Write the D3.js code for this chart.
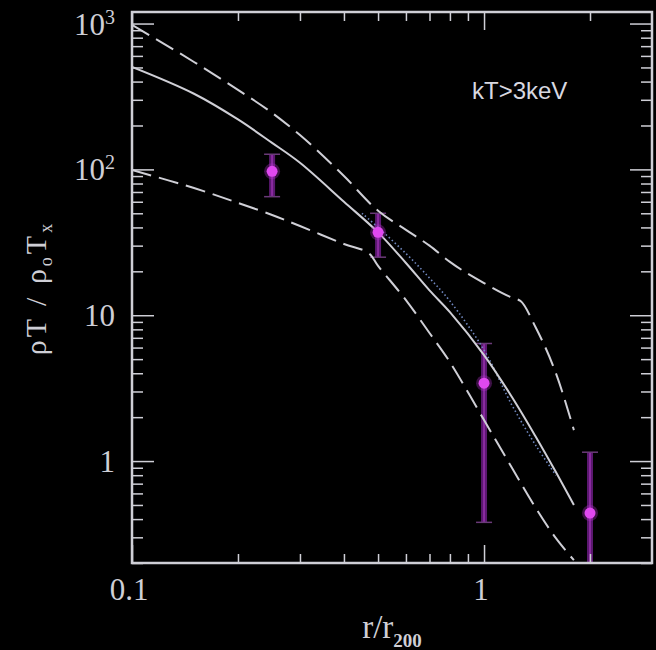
<!DOCTYPE html>
<html>
<head>
<meta charset="utf-8">
<script src="https://cdn.jsdelivr.net/npm/d3@7"></script>
<style>
  html, body { margin: 0; padding: 0; background: #000; }
  svg { display: block; background: #000; }
</style>
</head>
<body>
<svg id="chart" width="656" height="650"></svg>
<script>
// ---------------- data ----------------
const xDomain = [0.1, 3];
const yDomain = [0.2, 1200];

// model curves (x = r/r200)
const lineX = [0.1, 0.15, 0.2, 0.25, 0.3, 0.4, 0.5, 0.6, 0.7, 0.8, 1.0, 1.2, 1.4, 1.6, 1.8];
const solidY = [504, 330, 220, 152, 111, 60, 37, 22.8, 14.8, 10.5, 5.33, 2.75, 1.48, 0.84, 0.50];

const upperX = [0.1, 0.15, 0.2, 0.25, 0.3, 0.4, 0.5, 0.6, 0.7, 0.8, 1.0, 1.2, 1.27, 1.4, 1.6, 1.8];
const upperY = [978, 545, 351, 244, 172, 90, 52, 38.5, 30.0, 23.2, 16.6, 13.2, 12.5, 8.3, 4.0, 1.63];

const lowerX = [0.1, 0.15, 0.2, 0.25, 0.3, 0.4, 0.47, 0.5, 0.6, 0.7, 0.8, 1.0, 1.2, 1.4, 1.6, 1.8];
const lowerY = [99, 74.5, 58.9, 48.7, 40.9, 30.8, 26.7, 21.8, 12.7, 7.55, 4.77, 1.91, 0.90, 0.48, 0.296, 0.209];

const dottedX = [0.45, 0.5, 0.6, 0.7, 0.8, 1.0, 1.2, 1.4, 1.6];
const dottedY = [50, 40, 26.5, 18.0, 12.5, 5.77, 2.42, 1.29, 0.80];

// observed points with error bars
const ptX = [0.25, 0.5, 1.0, 2.0];
const ptY = [97, 37, 3.42, 0.44];
const errLo = [65, 25, 0.38, 0.2];
const errHi = [127, 50, 6.4, 1.15];

// ticks
const yMajor = [1, 10, 100, 1000];
const yMajorLabels = [["1", ""], ["10", ""], ["10", "2"], ["10", "3"]];
const yMinor = [0.2, 0.3, 0.4, 0.5, 0.6, 0.7, 0.8, 0.9, 2, 3, 4, 5, 6, 7, 8, 9,
                20, 30, 40, 50, 60, 70, 80, 90, 200, 300, 400, 500, 600, 700, 800, 900];
const xMajor = [0.1, 1];
const xMajorLabels = ["0.1", "1"];
const xMinor = [0.2, 0.3, 0.4, 0.5, 0.6, 0.7, 0.8, 0.9, 2];

const annotation = "kT>3keV";

// ---------------- drawing ----------------
const svg = d3.select("#chart");
const L = 132, R = 652, T = 12, B = 563;
const fg = "#cfcfd6";

const x = d3.scaleLog().domain(xDomain).range([L, R]);
const y = d3.scaleLog().domain(yDomain).range([B, T]);

const gPlot = svg.append("g");
gPlot.append("clipPath").attr("id", "clip")
  .append("rect").attr("x", L).attr("y", T).attr("width", R - L).attr("height", B - T);

// error bars
const eb = gPlot.append("g").attr("clip-path", "url(#clip)");
ptX.forEach((xv, i) => {
  eb.append("line")
    .attr("x1", x(xv)).attr("x2", x(xv))
    .attr("y1", y(errLo[i])).attr("y2", y(errHi[i]))
    .attr("stroke", "#5b1870").attr("stroke-width", 6);
  eb.append("line")
    .attr("x1", x(xv)).attr("x2", x(xv))
    .attr("y1", y(errLo[i])).attr("y2", y(errHi[i]))
    .attr("stroke", "#8a2aa0").attr("stroke-width", 2);
  [errLo[i], errHi[i]].forEach(v => {
    eb.append("line")
      .attr("x1", x(xv) - 8).attr("x2", x(xv) + 8)
      .attr("y1", y(v)).attr("y2", y(v))
      .attr("stroke", "#6a3a78").attr("stroke-width", 1.5);
  });
});

// curves
const smooth = d3.line().x(d => x(d[0])).y(d => y(d[1])).curve(d3.curveCatmullRom.alpha(0.5));
const mono = d3.line().x(d => x(d[0])).y(d => y(d[1])).curve(d3.curveMonotoneX);
const curves = gPlot.append("g").attr("clip-path", "url(#clip)");
curves.append("path").datum(dottedX.map((v, i) => [v, dottedY[i]]))
  .attr("d", smooth).attr("fill", "none").attr("stroke", "#7088c0")
  .attr("stroke-width", 1.6).attr("stroke-dasharray", "1.5,2.5");
curves.append("path").datum(lineX.map((v, i) => [v, solidY[i]]))
  .attr("d", smooth).attr("fill", "none").attr("stroke", fg).attr("stroke-width", 2);
curves.append("path").datum(upperX.map((v, i) => [v, upperY[i]]))
  .attr("d", mono).attr("fill", "none").attr("stroke", fg).attr("stroke-width", 2)
  .attr("stroke-dasharray", "20,8");
curves.append("path").datum(lowerX.map((v, i) => [v, lowerY[i]]))
  .attr("d", smooth).attr("fill", "none").attr("stroke", fg).attr("stroke-width", 2)
  .attr("stroke-dasharray", "20,8");

// points
const pts = gPlot.append("g");
ptX.forEach((xv, i) => {
  pts.append("circle").attr("cx", x(xv)).attr("cy", y(ptY[i])).attr("r", 8)
    .attr("fill", "#b030c8").attr("opacity", 0.35);
  pts.append("circle").attr("cx", x(xv)).attr("cy", y(ptY[i])).attr("r", 5.5)
    .attr("fill", "#e048f0");
});

// axes ticks (inward)
function tickAxis(axisFn, scale, vals, size, transform) {
  const a = axisFn(scale).tickValues(vals).tickSize(size).tickFormat("");
  const g = svg.append("g").attr("transform", transform).call(a);
  g.select(".domain").remove();
  g.selectAll("line").attr("stroke", fg).attr("stroke-width", 1.5);
  return g;
}
tickAxis(d3.axisLeft, y, yMajor, -22, `translate(${L},0)`);
tickAxis(d3.axisLeft, y, yMinor, -11, `translate(${L},0)`);
tickAxis(d3.axisRight, y, yMajor, -22, `translate(${R},0)`);
tickAxis(d3.axisRight, y, yMinor, -11, `translate(${R},0)`);
tickAxis(d3.axisBottom, x, xMajor, -18, `translate(0,${B})`);
tickAxis(d3.axisBottom, x, xMinor, -9, `translate(0,${B})`);
tickAxis(d3.axisTop, x, xMajor, -18, `translate(0,${T})`);
tickAxis(d3.axisTop, x, xMinor, -9, `translate(0,${T})`);

// frame
svg.append("rect").attr("x", L).attr("y", T).attr("width", R - L).attr("height", B - T)
  .attr("fill", "none").attr("stroke", fg).attr("stroke-width", 2.5);

// tick labels
const serif = "'Liberation Serif', 'DejaVu Serif', serif";
yMajor.forEach((v, i) => {
  const t = svg.append("text")
    .attr("x", 115).attr("y", y(v) + 11)
    .attr("text-anchor", "end")
    .attr("font-family", serif).attr("font-size", 31).attr("fill", fg);
  t.append("tspan").text(yMajorLabels[i][0]);
  if (yMajorLabels[i][1]) {
    t.append("tspan").attr("dy", -11).attr("font-size", 20).text(yMajorLabels[i][1]);
  }
});
xMajor.forEach((v, i) => {
  svg.append("text")
    .attr("x", x(v) - 3).attr("y", 600)
    .attr("text-anchor", "middle")
    .attr("font-family", serif).attr("font-size", 31).attr("fill", fg)
    .text(xMajorLabels[i]);
});

// axis titles
const xt = svg.append("text").attr("x", 392).attr("y", 638).attr("text-anchor", "middle")
  .attr("font-family", serif).attr("font-size", 33).attr("fill", fg);
xt.append("tspan").text("r/r");
xt.append("tspan").attr("dy", 9).attr("font-size", 19).attr("font-weight", "bold").text("200");

const yt = svg.append("text")
  .attr("transform", "translate(46,288) rotate(-90)")
  .attr("text-anchor", "middle")
  .attr("font-family", serif).attr("font-size", 30).attr("fill", fg)
  .attr("letter-spacing", 3);
yt.append("tspan").text("ρT / ρ");
yt.append("tspan").attr("dy", 6).attr("font-size", 18).text("o");
yt.append("tspan").attr("dy", -6).text("T");
yt.append("tspan").attr("dy", 6).attr("font-size", 18).text("x");

// annotation
svg.append("text").attr("x", 472).attr("y", 99)
  .attr("font-family", "'Liberation Sans', Arial, sans-serif").attr("font-size", 24)
  .attr("fill", "#d8d8e0").text(annotation);
</script>
</body>
</html>
